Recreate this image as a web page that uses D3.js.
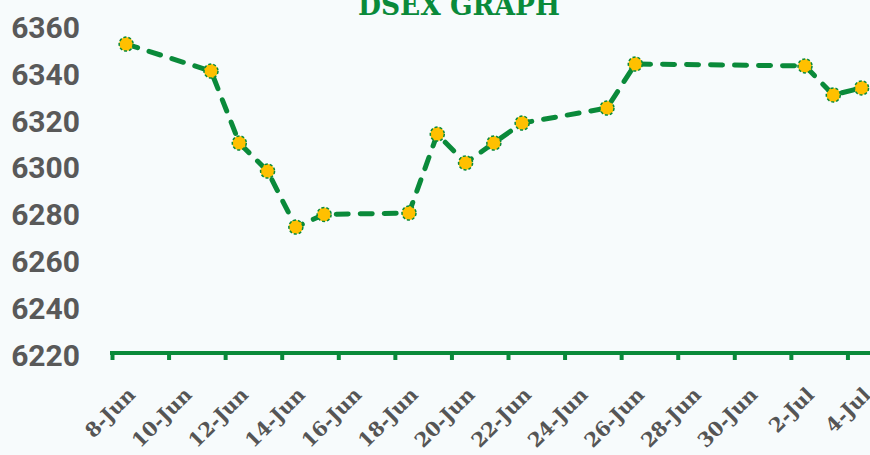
<!DOCTYPE html>
<html>
<head>
<meta charset="utf-8">
<script src="https://cdn.jsdelivr.net/npm/d3@7"></script>
<style>
  body { margin: 0; background: #f7fbfc; }
  svg { display: block; }
</style>
</head>
<body>
<svg></svg>
<script>
// DSEX closing index values
var dates = ["2023-06-08", "2023-06-11", "2023-06-12", "2023-06-13", "2023-06-14", "2023-06-15",
             "2023-06-18", "2023-06-19", "2023-06-20", "2023-06-21", "2023-06-22", "2023-06-25",
             "2023-06-26", "2023-07-02", "2023-07-03", "2023-07-04"];
var values = [6352.7, 6341.2, 6310.5, 6298.5, 6274.6, 6280.0,
              6280.6, 6314.3, 6302.0, 6310.5, 6319.0, 6325.4,
              6344.2, 6343.4, 6331.0, 6334.0];
var yTicks = [6220, 6240, 6260, 6280, 6300, 6320, 6340, 6360];

document.addEventListener("DOMContentLoaded", function() {
  var width = 870;
  var height = 455;
  var green = "#0a8a3a";
  var slab = "'DejaVu Serif', serif";

  var parse = d3.timeParse("%Y-%m-%d");
  var data = dates.map(function(d, i) {
    return { date: parse(d), value: values[i] };
  });

  var x0 = parse("2023-06-08");
  var xScale = d3.scaleTime()
                 .domain([x0, d3.timeDay.offset(x0, 28)])
                 .range([112, 904]);

  var yScale = d3.scaleLinear()
                 .domain([6220, 6360])
                 .range([355, 27]);

  var svg = d3.select("svg")
      .attr("width", width)
      .attr("height", height);

  svg.append("rect")
      .attr("width", width)
      .attr("height", height)
      .attr("fill", "#f7fbfc");

  svg.append("text")
      .text("DSEX GRAPH")
      .attr("x", 459)
      .attr("y", 15)
      .attr("textLength", 202)
      .attr("lengthAdjust", "spacingAndGlyphs")
      .style("text-anchor", "middle")
      .style("font-family", slab)
      .style("font-weight", "bold")
      .style("font-size", "27px")
      .style("fill", green);

  // y labels
  svg.append("g")
    .selectAll("text")
    .data(yTicks)
    .enter()
    .append("text")
      .text(d => d)
      .attr("x", 80)
      .attr("y", d => yScale(d))
      .attr("dy", "0.36em")
      .style("text-anchor", "end")
      .style("font-family", "Roboto")
      .style("font-weight", "700")
      .style("font-size", "30px")
      .style("fill", "#595959");

  // x axis
  var tickDates = d3.range(0, 27, 2).map(n => d3.timeDay.offset(x0, n));
  var xAxis = d3.axisBottom(xScale)
                .tickValues(tickDates)
                .tickSize(7)
                .tickFormat(d3.timeFormat("%-d-%b"));

  var gx = svg.append("g")
      .attr("transform", "translate(0, 353)")
      .call(xAxis);

  gx.select(".domain").remove();
  gx.append("line")
      .attr("x1", 110)
      .attr("x2", 870)
      .attr("y1", 0)
      .attr("y2", 0)
      .attr("stroke", green)
      .attr("stroke-width", 4);
  gx.selectAll(".tick line")
      .attr("stroke", green)
      .attr("stroke-width", 4);
  gx.selectAll(".tick text")
      .attr("y", 0)
      .attr("dy", 0)
      .attr("transform", "translate(24, 43) rotate(-45)")
      .style("text-anchor", "end")
      .style("font-family", slab)
      .style("font-weight", "bold")
      .style("font-size", "20px")
      .style("fill", "#555555");

  var xMid = d => xScale(d3.timeHour.offset(d.date, 12));

  var line = d3.line()
               .x(xMid)
               .y(d => yScale(d.value));

  svg.append("path")
      .datum(data)
      .attr("d", line)
      .attr("fill", "none")
      .attr("stroke", green)
      .attr("stroke-width", 5)
      .attr("stroke-linecap", "round")
      .attr("stroke-dasharray", "12,12");

  svg.selectAll("circle")
    .data(data)
    .enter()
    .append("circle")
      .attr("cx", xMid)
      .attr("cy", d => yScale(d.value))
      .attr("r", 7)
      .attr("fill", "#ffc000")
      .attr("stroke", green)
      .attr("stroke-width", 1.5)
      .attr("stroke-dasharray", "3,2");
});
</script>
</body>
</html>
